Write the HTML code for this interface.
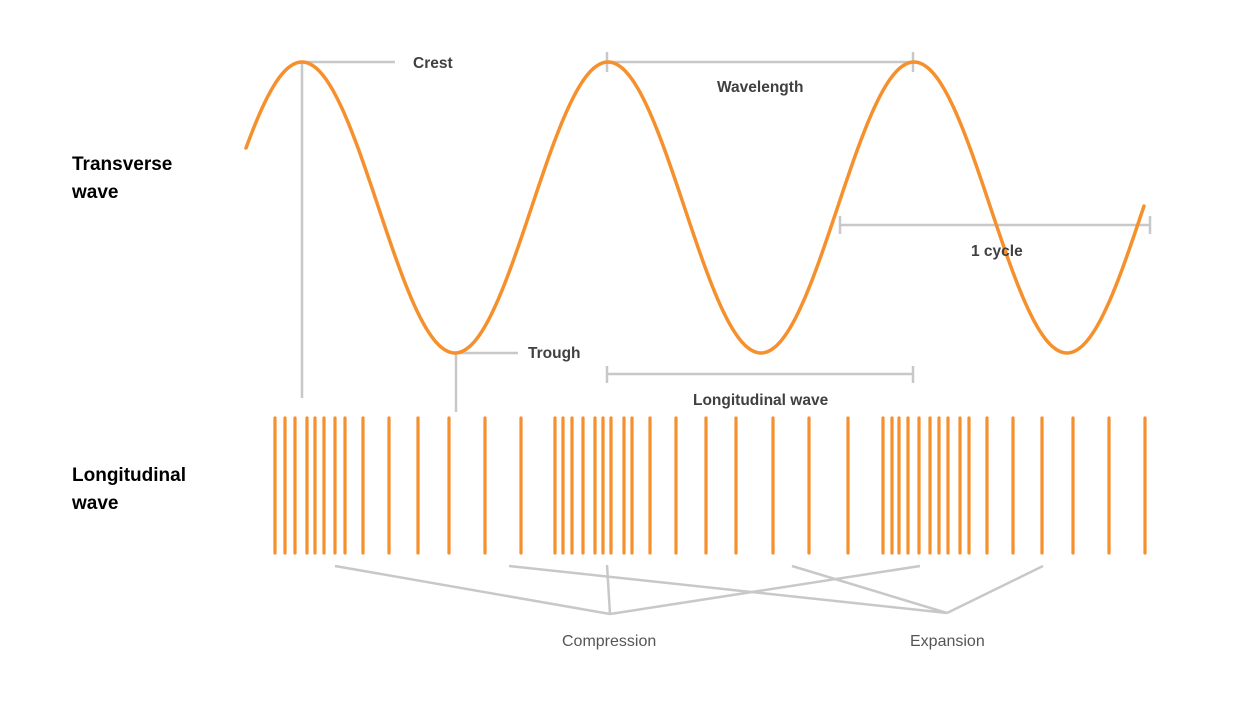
<!DOCTYPE html>
<html><head><meta charset="utf-8"><style>
html,body{margin:0;padding:0;background:#fff;}
svg{display:block}
.b{font-family:"Liberation Sans",sans-serif;font-weight:bold;fill:#404040;font-size:15.5px}
.h{font-family:"Liberation Sans",sans-serif;font-weight:bold;fill:#000;font-size:19px}
.r{font-family:"Liberation Sans",sans-serif;fill:#555;font-size:16px}
</style></head><body>
<svg id="s" width="1250" height="703" xmlns="http://www.w3.org/2000/svg">
<g stroke="#c8c8c8" stroke-width="2.5" fill="none">
<path d="M302 62H395M302 62V398"/>
<path d="M454 353H518M456 353V412"/>
<path d="M607 62H913M607 52V72M913 52V72"/>
<path d="M840 225H1150M840 216V234M1150 216V234"/>
<path d="M607 374H913M607 366V383M913 366V383"/>
<path d="M335 566L610 614M607 565L610 614M920 566L610 614"/>
<path d="M509 566L947 613M792 566L947 613M1043 566L947 613"/>
</g>
<path id="w" stroke="#f5902c" stroke-width="3.5" fill="none" stroke-linecap="round" d=""/>
<g id="bars" stroke="#f5902c" stroke-width="3.2" stroke-linecap="round"></g>
<text class="b" x="413" y="68">Crest</text>
<text class="b" x="717" y="92">Wavelength</text>
<text class="b" x="971" y="256">1 cycle</text>
<text class="b" x="528" y="358">Trough</text>
<text class="b" x="693" y="405">Longitudinal wave</text>
<text class="h" x="72" y="170">Transverse</text>
<text class="h" x="72" y="198">wave</text>
<text class="h" x="72" y="481">Longitudinal</text>
<text class="h" x="72" y="509">wave</text>
<text class="r" x="562" y="646">Compression</text>
<text class="r" x="910" y="646">Expansion</text>
</svg>
<script>
var d="";for(var x=246;x<=1145;x+=2){var y=207.5-145.5*Math.cos(2*Math.PI*(x-302)/306);d+=(x==246?"M":"L")+x+" "+y.toFixed(1);}
document.getElementById("w").setAttribute("d",d);
var xs=[275,285,295,307,315,324,335,345,363,389,418,449,485,521,555,563,572,583,595,603,611,624,632,650,676,706,736,773,809,848,883,892,899,908,919,930,939,948,960,969,987,1013,1042,1073,1109,1145];
var g=document.getElementById("bars"),h="";
xs.forEach(function(x){h+='<line x1="'+x+'" y1="418" x2="'+x+'" y2="553"/>';});
g.innerHTML=h;
</script>
</body></html>
